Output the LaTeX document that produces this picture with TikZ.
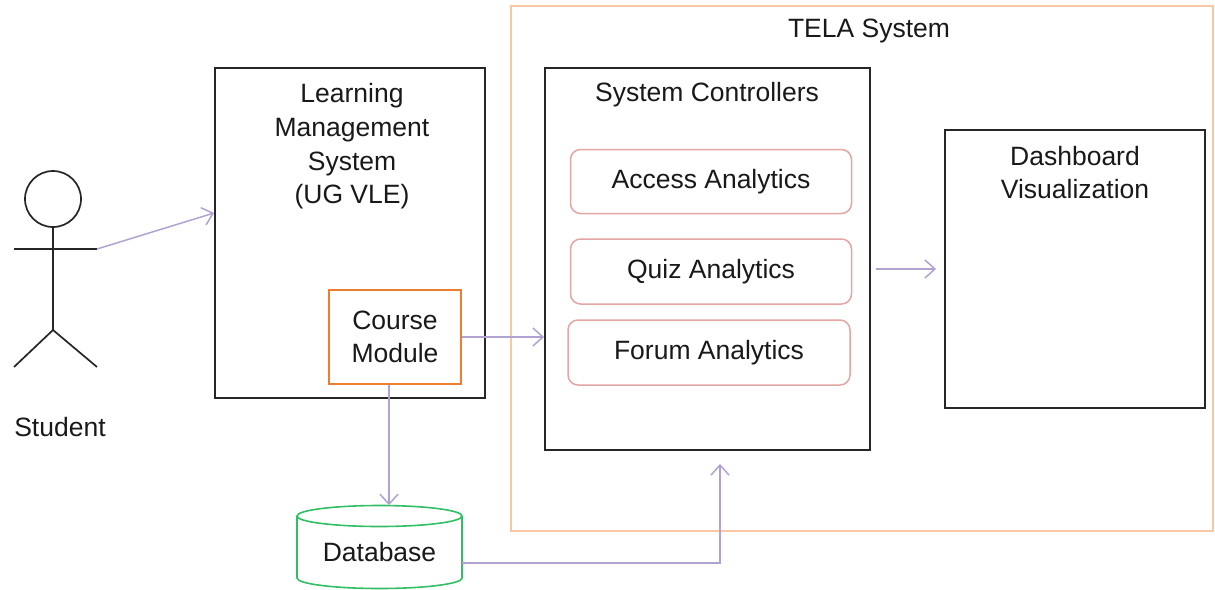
\documentclass[tikz,border=0pt]{standalone}
\usepackage{fontspec}
\setmainfont{Liberation Sans}
\usetikzlibrary{arrows.meta,calc}
\definecolor{arrowc}{RGB}{178,162,210}
\definecolor{telac}{RGB}{248,200,165}
\definecolor{cmc}{RGB}{237,125,49}
\definecolor{anc}{RGB}{228,165,165}
\definecolor{dbc}{RGB}{50,190,100}
\definecolor{boxc}{RGB}{38,38,38}
\definecolor{txtc}{RGB}{25,25,25}
\begin{document}
\begin{tikzpicture}[x=1pt,y=-1pt,
  font=\fontsize{26.5}{33.7}\selectfont,
  txt/.style={text=txtc, inner sep=0pt, align=center},
  bbox/.style={draw=boxc, line width=1.9pt, inner sep=0pt},
  telabox/.style={draw=telac, line width=1.5pt, inner sep=0pt},
  cmbox/.style={draw=cmc, line width=1.6pt, text=txtc, align=center, inner sep=0pt},
  anbox/.style={draw=anc, line width=1.5pt, rounded corners=10pt, text=txtc, inner sep=0pt},
  dbline/.style={draw=dbc, line width=1.6pt},
  actor/.style={draw=boxc, line width=1.7pt},
  arr/.style={draw=arrowc, line width=1.5pt, -{Straight Barb[length=10pt,width=18pt,line width=1.5pt]}}
]
\useasboundingbox (0,0) rectangle (1215,589);

% TELA system frame
\node[telabox, minimum width=702pt, minimum height=525pt] (tela) at (862,268.5) {};
\node[txt] (telat) at (869,31) {TELA System};

% Learning Management System
\node[bbox, minimum width=270pt, minimum height=330pt] (lms) at (350,233) {};
\node[txt] (lmst) at (352,146.5) {Learning\\Management\\System\\(UG VLE)};
\node[cmbox, minimum width=132pt, minimum height=94pt] (cm) at (395,337) {Course\\Module};

% System Controllers
\node[bbox, minimum width=325pt, minimum height=382pt] (sc) at (707.5,259) {};
\node[txt] (sct) at (707,95) {System Controllers};
\node[anbox, minimum width=281pt, minimum height=64pt] (acc) at (711,181.5) {Access Analytics};
\node[anbox, minimum width=281pt, minimum height=65pt] (quiz) at (711,271.5) {Quiz Analytics};
\node[anbox, minimum width=282pt, minimum height=65pt] (forum) at (709,352.5) {Forum Analytics};

% Dashboard
\node[bbox, minimum width=260pt, minimum height=278pt] (dash) at (1075,269) {};
\node[txt] (dasht) at (1075,172.5) {Dashboard\\Visualization};

% Database
\node[minimum width=165pt, minimum height=83pt, inner sep=0pt] (db) at (379.5,547) {};
\draw[dbline] (297,516) -- (297,578) arc[start angle=180,end angle=360,x radius=82.5pt,y radius=10.5pt] -- (462,516);
\draw[dbline] (379.5,516) ellipse [x radius=82.5pt,y radius=10.5pt];
\node[txt] (dbt) at (379.5,552) {Database};

% Student actor
\draw[actor] (53,199) circle[radius=28pt];
\draw[actor] (53,227) -- (53,330);
\draw[actor] (14,249) -- (97,249);
\draw[actor] (14,367) -- (53,330) -- (97,367);
\coordinate (armR) at (97,249);
\node[txt] (student) at (60,427) {Student};

% connectors
\draw[arr] (armR) -- ([yshift=20pt]lms.west);
\draw[arr] (cm.east) -- (sc.west |- cm.east);
\draw[arr] ([xshift=-6pt]cm.south) -- ([xshift=-6pt]cm.south |- db.north);
\draw[arr, shorten <=5pt, shorten >=8pt] (sc.east |- dash.west) -- (dash.west);
\draw[arr] ([yshift=-16pt]db.east) -| ([xshift=12.5pt,yshift=-13pt]sc.south);
\end{tikzpicture}
\end{document}
